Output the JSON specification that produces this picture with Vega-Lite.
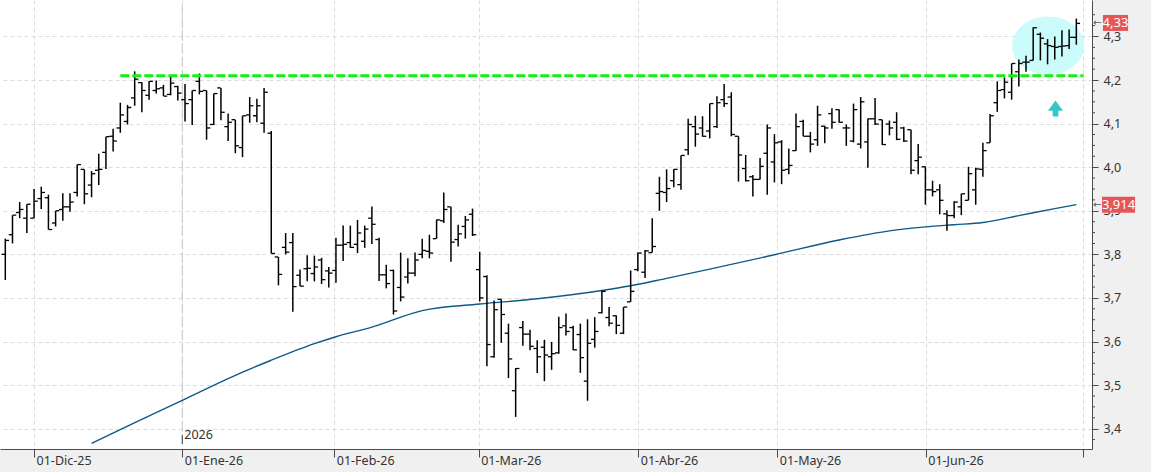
{
  "$schema": "https://vega.github.io/schema/vega-lite/v6.json",
  "width": 1092,
  "height": 449,
  "autosize": {"type": "none"},
  "padding": {"left": 0, "top": 0, "right": 59, "bottom": 23},
  "background": "#f0f0f0",
  "config": {"view": {"fill": "white", "stroke": null}},
  "datasets": {
    "px": [
      {"i":0,"d":"2025-11-25","o":3.800,"h":3.836,"l":3.741,"c":3.832},
      {"i":1,"d":"2025-11-26","o":3.845,"h":3.890,"l":3.825,"c":3.890},
      {"i":2,"d":"2025-11-27","o":3.896,"h":3.920,"l":3.883,"c":3.903},
      {"i":3,"d":"2025-11-28","o":3.883,"h":3.915,"l":3.849,"c":3.915},
      {"i":4,"d":"2025-12-01","o":3.883,"h":3.950,"l":3.883,"c":3.922},
      {"i":5,"d":"2025-12-02","o":3.928,"h":3.955,"l":3.904,"c":3.942},
      {"i":6,"d":"2025-12-03","o":3.930,"h":3.937,"l":3.857,"c":3.857},
      {"i":7,"d":"2025-12-04","o":3.872,"h":3.900,"l":3.864,"c":3.900},
      {"i":8,"d":"2025-12-05","o":3.903,"h":3.940,"l":3.877,"c":3.909},
      {"i":9,"d":"2025-12-08","o":3.909,"h":3.940,"l":3.898,"c":3.920},
      {"i":10,"d":"2025-12-09","o":3.942,"h":4.006,"l":3.933,"c":4.006},
      {"i":11,"d":"2025-12-10","o":3.995,"h":3.995,"l":3.915,"c":3.939},
      {"i":12,"d":"2025-12-11","o":3.959,"h":3.991,"l":3.931,"c":3.985},
      {"i":13,"d":"2025-12-12","o":3.993,"h":4.031,"l":3.959,"c":3.995},
      {"i":14,"d":"2025-12-15","o":4.034,"h":4.070,"l":3.996,"c":4.070},
      {"i":15,"d":"2025-12-16","o":4.071,"h":4.088,"l":4.036,"c":4.060},
      {"i":16,"d":"2025-12-17","o":4.090,"h":4.148,"l":4.079,"c":4.120},
      {"i":17,"d":"2025-12-18","o":4.105,"h":4.143,"l":4.098,"c":4.137},
      {"i":18,"d":"2025-12-19","o":4.159,"h":4.220,"l":4.141,"c":4.202},
      {"i":19,"d":"2025-12-22","o":4.194,"h":4.195,"l":4.126,"c":4.176},
      {"i":20,"d":"2025-12-23","o":4.165,"h":4.198,"l":4.155,"c":4.197},
      {"i":21,"d":"2025-12-24","o":4.176,"h":4.199,"l":4.169,"c":4.180},
      {"i":22,"d":"2025-12-29","o":4.182,"h":4.189,"l":4.163,"c":4.163},
      {"i":23,"d":"2025-12-30","o":4.167,"h":4.208,"l":4.165,"c":4.193},
      {"i":24,"d":"2025-12-31","o":4.185,"h":4.187,"l":4.153,"c":4.170},
      {"i":25,"d":"2026-01-02","o":4.155,"h":4.191,"l":4.105,"c":4.146},
      {"i":26,"d":"2026-01-05","o":4.155,"h":4.176,"l":4.097,"c":4.176},
      {"i":27,"d":"2026-01-06","o":4.197,"h":4.215,"l":4.167,"c":4.174},
      {"i":28,"d":"2026-01-07","o":4.176,"h":4.176,"l":4.063,"c":4.090},
      {"i":29,"d":"2026-01-08","o":4.098,"h":4.169,"l":4.097,"c":4.169},
      {"i":30,"d":"2026-01-09","o":4.182,"h":4.182,"l":4.108,"c":4.126},
      {"i":31,"d":"2026-01-12","o":4.093,"h":4.123,"l":4.060,"c":4.103},
      {"i":32,"d":"2026-01-13","o":4.109,"h":4.109,"l":4.032,"c":4.049},
      {"i":33,"d":"2026-01-14","o":4.045,"h":4.118,"l":4.023,"c":4.118},
      {"i":34,"d":"2026-01-15","o":4.120,"h":4.161,"l":4.102,"c":4.141},
      {"i":35,"d":"2026-01-16","o":4.118,"h":4.157,"l":4.103,"c":4.141},
      {"i":36,"d":"2026-01-19","o":4.101,"h":4.182,"l":4.079,"c":4.172},
      {"i":37,"d":"2026-01-20","o":4.078,"h":4.083,"l":3.802,"c":3.802},
      {"i":38,"d":"2026-01-21","o":3.794,"h":3.794,"l":3.729,"c":3.754},
      {"i":39,"d":"2026-01-22","o":3.816,"h":3.849,"l":3.800,"c":3.805},
      {"i":40,"d":"2026-01-23","o":3.827,"h":3.849,"l":3.668,"c":3.726},
      {"i":41,"d":"2026-01-26","o":3.752,"h":3.765,"l":3.727,"c":3.727},
      {"i":42,"d":"2026-01-27","o":3.767,"h":3.798,"l":3.738,"c":3.768},
      {"i":43,"d":"2026-01-28","o":3.756,"h":3.797,"l":3.738,"c":3.771},
      {"i":44,"d":"2026-01-29","o":3.787,"h":3.792,"l":3.732,"c":3.742},
      {"i":45,"d":"2026-01-30","o":3.762,"h":3.771,"l":3.724,"c":3.757},
      {"i":46,"d":"2026-02-02","o":3.763,"h":3.838,"l":3.735,"c":3.821},
      {"i":47,"d":"2026-02-03","o":3.821,"h":3.866,"l":3.785,"c":3.823},
      {"i":48,"d":"2026-02-04","o":3.827,"h":3.866,"l":3.815,"c":3.816},
      {"i":49,"d":"2026-02-05","o":3.823,"h":3.879,"l":3.803,"c":3.849},
      {"i":50,"d":"2026-02-06","o":3.830,"h":3.866,"l":3.815,"c":3.858},
      {"i":51,"d":"2026-02-09","o":3.883,"h":3.910,"l":3.824,"c":3.869},
      {"i":52,"d":"2026-02-10","o":3.834,"h":3.838,"l":3.739,"c":3.753},
      {"i":53,"d":"2026-02-11","o":3.753,"h":3.776,"l":3.722,"c":3.733},
      {"i":54,"d":"2026-02-12","o":3.763,"h":3.765,"l":3.662,"c":3.670},
      {"i":55,"d":"2026-02-13","o":3.724,"h":3.804,"l":3.692,"c":3.702},
      {"i":56,"d":"2026-02-16","o":3.748,"h":3.791,"l":3.733,"c":3.757},
      {"i":57,"d":"2026-02-17","o":3.757,"h":3.804,"l":3.750,"c":3.787},
      {"i":58,"d":"2026-02-18","o":3.800,"h":3.836,"l":3.791,"c":3.809},
      {"i":59,"d":"2026-02-19","o":3.807,"h":3.845,"l":3.791,"c":3.803},
      {"i":60,"d":"2026-02-20","o":3.836,"h":3.880,"l":3.836,"c":3.879},
      {"i":61,"d":"2026-02-23","o":3.877,"h":3.942,"l":3.872,"c":3.903},
      {"i":62,"d":"2026-02-24","o":3.909,"h":3.909,"l":3.783,"c":3.828},
      {"i":63,"d":"2026-02-25","o":3.834,"h":3.868,"l":3.818,"c":3.847},
      {"i":64,"d":"2026-02-26","o":3.864,"h":3.888,"l":3.836,"c":3.879},
      {"i":65,"d":"2026-02-27","o":3.892,"h":3.905,"l":3.842,"c":3.845},
      {"i":66,"d":"2026-03-02","o":3.765,"h":3.806,"l":3.692,"c":3.700},
      {"i":67,"d":"2026-03-03","o":3.749,"h":3.752,"l":3.543,"c":3.593},
      {"i":68,"d":"2026-03-04","o":3.565,"h":3.694,"l":3.563,"c":3.673},
      {"i":69,"d":"2026-03-05","o":3.697,"h":3.697,"l":3.597,"c":3.662},
      {"i":70,"d":"2026-03-06","o":3.619,"h":3.641,"l":3.516,"c":3.560},
      {"i":71,"d":"2026-03-09","o":3.487,"h":3.539,"l":3.427,"c":3.538},
      {"i":72,"d":"2026-03-10","o":3.632,"h":3.647,"l":3.590,"c":3.617},
      {"i":73,"d":"2026-03-11","o":3.617,"h":3.627,"l":3.580,"c":3.589},
      {"i":74,"d":"2026-03-12","o":3.584,"h":3.603,"l":3.528,"c":3.565},
      {"i":75,"d":"2026-03-13","o":3.587,"h":3.604,"l":3.509,"c":3.569},
      {"i":76,"d":"2026-03-16","o":3.565,"h":3.599,"l":3.535,"c":3.572},
      {"i":77,"d":"2026-03-17","o":3.574,"h":3.657,"l":3.572,"c":3.632},
      {"i":78,"d":"2026-03-18","o":3.636,"h":3.664,"l":3.614,"c":3.623},
      {"i":79,"d":"2026-03-19","o":3.632,"h":3.636,"l":3.580,"c":3.581},
      {"i":80,"d":"2026-03-20","o":3.616,"h":3.641,"l":3.528,"c":3.563},
      {"i":81,"d":"2026-03-23","o":3.509,"h":3.651,"l":3.464,"c":3.596},
      {"i":82,"d":"2026-03-24","o":3.605,"h":3.656,"l":3.586,"c":3.623},
      {"i":83,"d":"2026-03-25","o":3.666,"h":3.717,"l":3.664,"c":3.715},
      {"i":84,"d":"2026-03-26","o":3.655,"h":3.679,"l":3.635,"c":3.642},
      {"i":85,"d":"2026-03-27","o":3.659,"h":3.660,"l":3.617,"c":3.637},
      {"i":86,"d":"2026-03-30","o":3.619,"h":3.679,"l":3.617,"c":3.679},
      {"i":87,"d":"2026-03-31","o":3.691,"h":3.763,"l":3.691,"c":3.715},
      {"i":88,"d":"2026-04-01","o":3.765,"h":3.804,"l":3.761,"c":3.803},
      {"i":89,"d":"2026-04-02","o":3.759,"h":3.810,"l":3.746,"c":3.808},
      {"i":90,"d":"2026-04-07","o":3.804,"h":3.883,"l":3.804,"c":3.818},
      {"i":91,"d":"2026-04-08","o":3.940,"h":3.978,"l":3.900,"c":3.944},
      {"i":92,"d":"2026-04-09","o":3.942,"h":3.995,"l":3.920,"c":3.951},
      {"i":93,"d":"2026-04-10","o":3.969,"h":3.996,"l":3.954,"c":3.995},
      {"i":94,"d":"2026-04-13","o":3.960,"h":4.027,"l":3.948,"c":4.027},
      {"i":95,"d":"2026-04-14","o":4.040,"h":4.111,"l":4.028,"c":4.098},
      {"i":96,"d":"2026-04-15","o":4.093,"h":4.118,"l":4.047,"c":4.076},
      {"i":97,"d":"2026-04-16","o":4.090,"h":4.117,"l":4.070,"c":4.071},
      {"i":98,"d":"2026-04-17","o":4.083,"h":4.146,"l":4.066,"c":4.146},
      {"i":99,"d":"2026-04-20","o":4.093,"h":4.163,"l":4.090,"c":4.148},
      {"i":100,"d":"2026-04-21","o":4.155,"h":4.191,"l":4.138,"c":4.146},
      {"i":101,"d":"2026-04-22","o":4.161,"h":4.172,"l":4.071,"c":4.075},
      {"i":102,"d":"2026-04-23","o":4.071,"h":4.071,"l":3.967,"c":4.028},
      {"i":103,"d":"2026-04-24","o":3.997,"h":4.028,"l":3.967,"c":3.969},
      {"i":104,"d":"2026-04-27","o":3.978,"h":3.982,"l":3.933,"c":3.972},
      {"i":105,"d":"2026-04-28","o":3.972,"h":4.021,"l":3.972,"c":4.002},
      {"i":106,"d":"2026-04-29","o":4.032,"h":4.098,"l":3.937,"c":4.090},
      {"i":107,"d":"2026-04-30","o":4.012,"h":4.076,"l":3.965,"c":4.056},
      {"i":108,"d":"2026-05-04","o":4.058,"h":4.062,"l":3.961,"c":3.993},
      {"i":109,"d":"2026-05-05","o":3.995,"h":4.043,"l":3.984,"c":4.004},
      {"i":110,"d":"2026-05-06","o":4.038,"h":4.123,"l":4.037,"c":4.093},
      {"i":111,"d":"2026-05-07","o":4.105,"h":4.109,"l":4.071,"c":4.071},
      {"i":112,"d":"2026-05-08","o":4.071,"h":4.081,"l":4.034,"c":4.053},
      {"i":113,"d":"2026-05-11","o":4.063,"h":4.141,"l":4.049,"c":4.120},
      {"i":114,"d":"2026-05-12","o":4.094,"h":4.095,"l":4.055,"c":4.090},
      {"i":115,"d":"2026-05-13","o":4.123,"h":4.135,"l":4.088,"c":4.103},
      {"i":116,"d":"2026-05-14","o":4.132,"h":4.133,"l":4.102,"c":4.103},
      {"i":117,"d":"2026-05-15","o":4.090,"h":4.098,"l":4.049,"c":4.090},
      {"i":118,"d":"2026-05-18","o":4.060,"h":4.146,"l":4.057,"c":4.132},
      {"i":119,"d":"2026-05-19","o":4.053,"h":4.161,"l":4.043,"c":4.150},
      {"i":120,"d":"2026-05-20","o":4.058,"h":4.112,"l":3.999,"c":4.111},
      {"i":121,"d":"2026-05-21","o":4.111,"h":4.159,"l":4.097,"c":4.099},
      {"i":122,"d":"2026-05-22","o":4.109,"h":4.109,"l":4.051,"c":4.052},
      {"i":123,"d":"2026-05-25","o":4.099,"h":4.107,"l":4.073,"c":4.090},
      {"i":124,"d":"2026-05-26","o":4.103,"h":4.126,"l":4.062,"c":4.064},
      {"i":125,"d":"2026-05-27","o":4.090,"h":4.093,"l":4.058,"c":4.060},
      {"i":126,"d":"2026-05-28","o":4.086,"h":4.086,"l":3.984,"c":3.993},
      {"i":127,"d":"2026-05-29","o":4.015,"h":4.053,"l":3.984,"c":4.023},
      {"i":128,"d":"2026-06-01","o":4.001,"h":4.002,"l":3.914,"c":3.948},
      {"i":129,"d":"2026-06-02","o":3.948,"h":3.969,"l":3.933,"c":3.944},
      {"i":130,"d":"2026-06-03","o":3.948,"h":3.961,"l":3.892,"c":3.924},
      {"i":131,"d":"2026-06-04","o":3.893,"h":3.901,"l":3.854,"c":3.889},
      {"i":132,"d":"2026-06-05","o":3.889,"h":3.922,"l":3.883,"c":3.920},
      {"i":133,"d":"2026-06-08","o":3.909,"h":3.939,"l":3.890,"c":3.939},
      {"i":134,"d":"2026-06-09","o":3.924,"h":4.001,"l":3.924,"c":3.985},
      {"i":135,"d":"2026-06-10","o":3.948,"h":3.999,"l":3.914,"c":3.996},
      {"i":136,"d":"2026-06-11","o":3.995,"h":4.056,"l":3.978,"c":4.038},
      {"i":137,"d":"2026-06-12","o":4.056,"h":4.122,"l":4.056,"c":4.118},
      {"i":138,"d":"2026-06-15","o":4.148,"h":4.197,"l":4.127,"c":4.176},
      {"i":139,"d":"2026-06-16","o":4.178,"h":4.206,"l":4.158,"c":4.195},
      {"i":140,"d":"2026-06-17","o":4.172,"h":4.238,"l":4.155,"c":4.238},
      {"i":141,"d":"2026-06-18","o":4.219,"h":4.247,"l":4.185,"c":4.238},
      {"i":142,"d":"2026-06-19","o":4.241,"h":4.256,"l":4.219,"c":4.241},
      {"i":143,"d":"2026-06-22","o":4.245,"h":4.321,"l":4.245,"c":4.320},
      {"i":144,"d":"2026-06-23","o":4.305,"h":4.309,"l":4.245,"c":4.296},
      {"i":145,"d":"2026-06-24","o":4.283,"h":4.294,"l":4.236,"c":4.279},
      {"i":146,"d":"2026-06-25","o":4.277,"h":4.300,"l":4.247,"c":4.275},
      {"i":147,"d":"2026-06-26","o":4.277,"h":4.314,"l":4.254,"c":4.278},
      {"i":148,"d":"2026-06-29","o":4.279,"h":4.316,"l":4.271,"c":4.298},
      {"i":149,"d":"2026-06-30","o":4.298,"h":4.341,"l":4.281,"c":4.330}
    ],
    "ma": [
      {"i":12,"v":3.366},{"i":17,"v":3.406},{"i":25,"v":3.468},{"i":31,"v":3.515},
      {"i":37,"v":3.557},{"i":43,"v":3.595},{"i":46,"v":3.611},{"i":51,"v":3.633},
      {"i":58,"v":3.671},{"i":66,"v":3.686},{"i":74,"v":3.698},{"i":83,"v":3.717},
      {"i":87,"v":3.728},{"i":92,"v":3.745},{"i":98,"v":3.766},{"i":107,"v":3.799},
      {"i":116,"v":3.833},{"i":123,"v":3.854},{"i":128,"v":3.863},{"i":132,"v":3.868},
      {"i":136,"v":3.873},{"i":141,"v":3.889},{"i":146,"v":3.905},{"i":149,"v":3.914}
    ],
    "minor": [
      {"v":3.375},{"v":3.425},{"v":3.45},{"v":3.475},{"v":3.525},{"v":3.55},{"v":3.575},
      {"v":3.625},{"v":3.65},{"v":3.675},{"v":3.725},{"v":3.75},{"v":3.775},
      {"v":3.825},{"v":3.85},{"v":3.875},{"v":3.925},{"v":3.95},{"v":3.975},
      {"v":4.025},{"v":4.05},{"v":4.075},{"v":4.125},{"v":4.15},{"v":4.175},
      {"v":4.225},{"v":4.25},{"v":4.275},{"v":4.325},{"v":4.35}
    ]
  },
  "layer": [
    {
      "data": {"values": [{"note": "zone"}]},
      "mark": {"type": "point", "filled": true, "opacity": 1, "color": "#ccfbfb", "strokeWidth": 0, "size": 5184,
        "shape": "M 1 0 C 1 0.447 0.552 0.81 0 0.81 C -0.552 0.81 -1 0.447 -1 0 C -1 -0.447 -0.552 -0.81 0 -0.81 C 0.552 -0.81 1 -0.447 1 0 Z"},
      "encoding": {
        "x": {"datum": 145.06, "type": "quantitative", "scale": {"domain": [-0.737, 151.18], "nice": false, "zero": false},
          "axis": {
            "orient": "bottom", "title": null,
            "values": [4, 24.62, 45.77, 65.86, 88.06, 107.4, 128.05, 149.97],
            "labelExpr": "datum.value < 10 ? '01-Dic-25' : datum.value < 30 ? '01-Ene-26' : datum.value < 50 ? '01-Feb-26' : datum.value < 70 ? '01-Mar-26' : datum.value < 95 ? '01-Abr-26' : datum.value < 115 ? '01-May-26' : datum.value < 140 ? '01-Jun-26' : ''",
            "domainColor": "#4a4a4a", "tickColor": "#4a4a4a", "tickSize": 8,
            "labelAlign": "left", "labelBaseline": "top", "labelPadding": -3, "labelOffset": 2,
            "labelFont": "Noto Sans", "labelFontSize": 12.5, "labelColor": "#333333",
            "labelBound": false, "labelOverlap": false, "labelFlush": false,
            "grid": true, "gridColor": "#dcdcdc", "gridDash": [4, 3]
          }},
        "y": {"datum": 4.2787, "type": "quantitative", "scale": {"domain": [3.3648, 4.3722], "nice": false, "zero": false},
          "axis": {
            "orient": "right", "title": null,
            "values": [3.4, 3.5, 3.6, 3.7, 3.8, 3.9, 4.0, 4.1, 4.2, 4.3],
            "labelExpr": "replace(format(datum.value, '.1f'), '.', ',')",
            "domainColor": "#4a4a4a", "tickColor": "#4a4a4a", "tickSize": 6,
            "labelPadding": 5,
            "labelFont": "Noto Sans", "labelFontSize": 12.5, "labelColor": "#333333",
            "labelBound": false, "labelOverlap": false, "labelFlush": false,
            "grid": true, "gridColor": "#dcdcdc", "gridDash": [4, 3]
          }}
      }
    },
    {
      "data": {"values": [{"note": "year line"}]},
      "mark": {"type": "rule", "color": "#c6c6c6", "strokeWidth": 1, "strokeDash": [10, 3]},
      "encoding": {
        "x": {"datum": 24.62, "type": "quantitative", "axis": {"title": null}},
        "y": {"datum": 4.3722, "type": "quantitative", "axis": {"orient": "right", "title": null}},
        "y2": {"datum": 3.3648}
      }
    },
    {
      "data": {"name": "ma"},
      "mark": {"type": "line", "color": "#0d5a87", "strokeWidth": 1.4, "clip": true, "interpolate": "monotone"},
      "encoding": {
        "x": {"field": "i", "type": "quantitative", "axis": {"title": null}},
        "y": {"field": "v", "type": "quantitative", "axis": {"orient": "right", "title": null}}
      }
    },
    {
      "data": {"name": "px"},
      "mark": {"type": "rule", "color": "#000000", "strokeWidth": 1.5, "clip": true},
      "encoding": {
        "x": {"field": "i", "type": "quantitative", "axis": {"title": null}},
        "y": {"field": "l", "type": "quantitative", "axis": {"orient": "right", "title": null}},
        "y2": {"field": "h"}
      }
    },
    {
      "data": {"name": "px"},
      "mark": {"type": "tick", "orient": "horizontal", "color": "#000000", "size": 3.5, "thickness": 1.3, "xOffset": -2, "opacity": 1},
      "encoding": {
        "x": {"field": "i", "type": "quantitative", "axis": {"title": null}},
        "y": {"field": "o", "type": "quantitative", "axis": {"orient": "right", "title": null}}
      }
    },
    {
      "data": {"name": "px"},
      "mark": {"type": "tick", "orient": "horizontal", "color": "#000000", "size": 3.5, "thickness": 1.3, "xOffset": 2, "opacity": 1},
      "encoding": {
        "x": {"field": "i", "type": "quantitative", "axis": {"title": null}},
        "y": {"field": "c", "type": "quantitative", "axis": {"orient": "right", "title": null}}
      }
    },
    {
      "data": {"values": [{"level": 4.21}]},
      "mark": {"type": "rule", "color": "#12f012", "strokeWidth": 3, "strokeDash": [9, 3]},
      "encoding": {
        "x": {"datum": 16, "type": "quantitative", "axis": {"title": null}},
        "x2": {"datum": 150},
        "y": {"field": "level", "type": "quantitative", "axis": {"orient": "right", "title": null}}
      }
    },
    {
      "data": {"values": [{"note": "up"}]},
      "mark": {"type": "point", "filled": true, "opacity": 1, "color": "#38c6c6", "strokeWidth": 0, "size": 225,
        "shape": "M 0 -1.07 L 1 0.3 L 0.38 0.3 L 0.38 1.07 L -0.38 1.07 L -0.38 0.3 L -1 0.3 Z"},
      "encoding": {
        "x": {"datum": 146.1, "type": "quantitative", "axis": {"title": null}},
        "y": {"datum": 4.1345, "type": "quantitative", "axis": {"orient": "right", "title": null}}
      }
    },
    {
      "data": {"name": "minor"},
      "mark": {"type": "tick", "orient": "horizontal", "color": "#4a4a4a", "size": 3, "thickness": 1, "xOffset": 1.5, "opacity": 1, "clip": false},
      "encoding": {
        "x": {"datum": 151.18, "type": "quantitative", "axis": {"title": null}},
        "y": {"field": "v", "type": "quantitative", "axis": {"orient": "right", "title": null}}
      }
    },
    {
      "data": {"values": [{"note": "year tick"}]},
      "mark": {"type": "rule", "color": "#4a4a4a", "strokeWidth": 1},
      "encoding": {
        "x": {"datum": 24.62, "type": "quantitative", "axis": {"title": null}},
        "y": {"datum": 3.3648, "type": "quantitative", "axis": {"orient": "right", "title": null}},
        "y2": {"datum": 3.385}
      }
    },
    {
      "data": {"values": [{"t": "2026"}]},
      "mark": {"type": "text", "align": "left", "baseline": "middle", "dx": 2, "font": "Noto Sans", "fontSize": 12.5, "color": "#333333"},
      "encoding": {
        "x": {"datum": 24.62, "type": "quantitative", "axis": {"title": null}},
        "y": {"datum": 3.3845, "type": "quantitative", "axis": {"orient": "right", "title": null}},
        "text": {"field": "t"}
      }
    },
    {
      "data": {"values": [{"v": 4.331}, {"v": 3.914}]},
      "mark": {"type": "text", "text": "←", "align": "center", "baseline": "middle", "font": "DejaVu Sans", "fontSize": 10, "color": "#555555", "clip": false},
      "encoding": {
        "x": {"datum": 151.9, "type": "quantitative", "axis": {"title": null}},
        "y": {"field": "v", "type": "quantitative", "axis": {"orient": "right", "title": null}}
      }
    },
    {
      "data": {"values": [{"v": 4.331, "t": "4,33"}]},
      "mark": {"type": "bar", "color": "#e65656", "size": 16, "clip": false},
      "encoding": {
        "x": {"datum": 152.7, "type": "quantitative", "axis": {"title": null}},
        "x2": {"datum": 156.2},
        "y": {"field": "v", "type": "quantitative", "axis": {"orient": "right", "title": null}}
      }
    },
    {
      "data": {"values": [{"v": 4.331, "t": "4,33"}]},
      "mark": {"type": "text", "align": "center", "baseline": "middle", "font": "Noto Sans", "fontSize": 13, "color": "#ffffff", "clip": false},
      "encoding": {
        "x": {"datum": 154.45, "type": "quantitative", "axis": {"title": null}},
        "y": {"field": "v", "type": "quantitative", "axis": {"orient": "right", "title": null}},
        "text": {"field": "t"}
      }
    },
    {
      "data": {"values": [{"v": 3.914, "t": "3,914"}]},
      "mark": {"type": "bar", "color": "#e65656", "size": 16, "clip": false},
      "encoding": {
        "x": {"datum": 152.57, "type": "quantitative", "axis": {"title": null}},
        "x2": {"datum": 157.17},
        "y": {"field": "v", "type": "quantitative", "axis": {"orient": "right", "title": null}}
      }
    },
    {
      "data": {"values": [{"v": 3.914, "t": "3,914"}]},
      "mark": {"type": "text", "align": "center", "baseline": "middle", "font": "Noto Sans", "fontSize": 13, "color": "#ffffff", "clip": false},
      "encoding": {
        "x": {"datum": 154.87, "type": "quantitative", "axis": {"title": null}},
        "y": {"field": "v", "type": "quantitative", "axis": {"orient": "right", "title": null}},
        "text": {"field": "t"}
      }
    }
  ]
}
